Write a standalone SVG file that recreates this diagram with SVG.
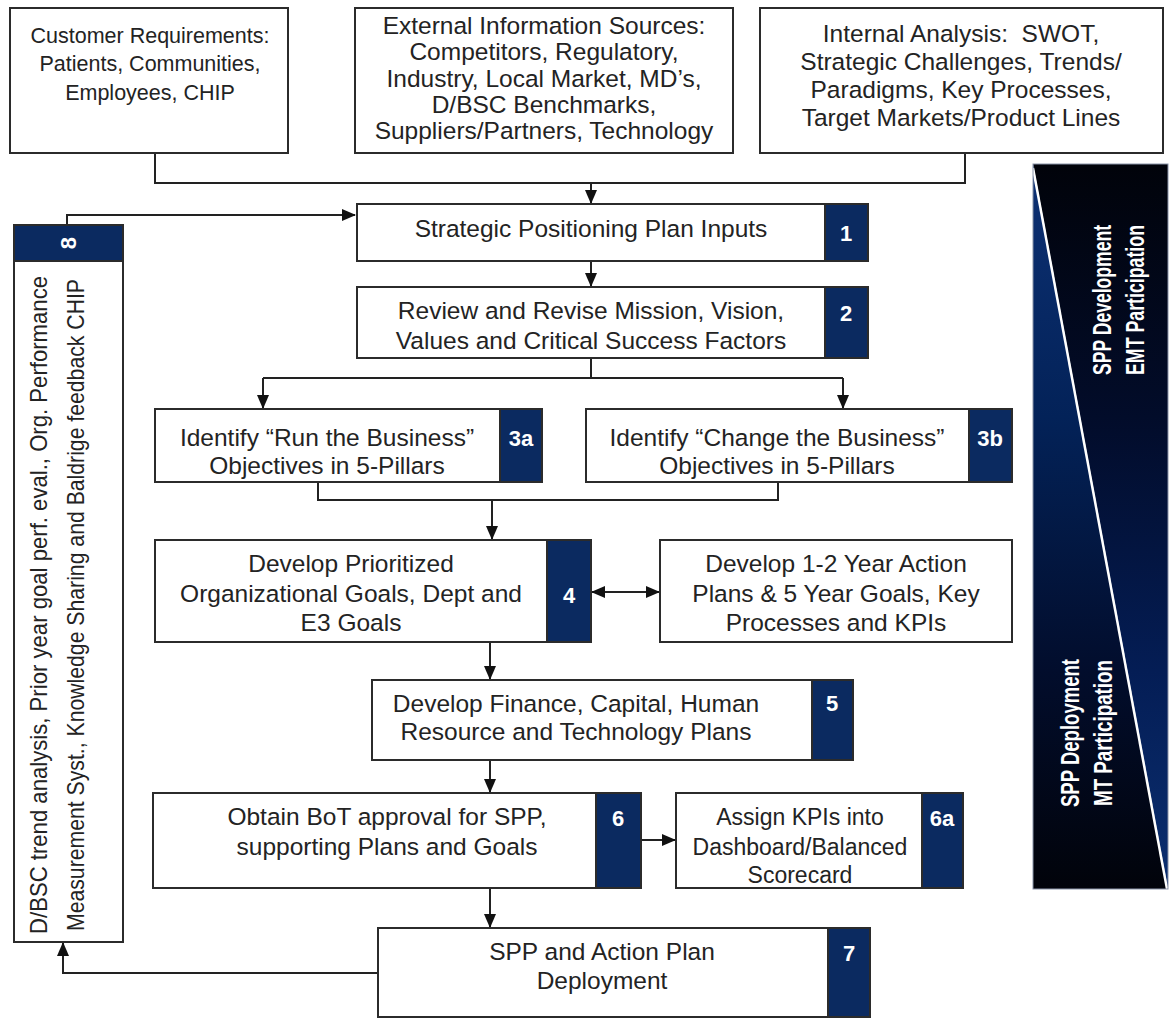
<svg xmlns="http://www.w3.org/2000/svg" width="1174" height="1031" viewBox="0 0 1174 1031">
  <style>
    .box { fill: #ffffff; stroke: #2b2b2b; stroke-width: 2; }
    .badge { fill: #0b2a60; stroke: #2b2b2b; stroke-width: 2; }
    .txt { font-family: "Liberation Sans", Arial, sans-serif; font-size: 24.5px; fill: #232323; text-anchor: middle; }
    .small { font-size: 21.5px; }
    .mid { font-size: 23px; }
    .num { font-family: "Liberation Sans", Arial, sans-serif; font-size: 22px; font-weight: bold; fill: #ffffff; text-anchor: middle; }
    .narrow { font-family: "Liberation Sans Narrow", "Liberation Sans", Arial, sans-serif; text-anchor: middle; }
    .side { font-size: 24px; fill: #232323; }
    .band { font-size: 25px; font-weight: bold; fill: #ffffff; }
    .wire { fill: none; stroke: #222222; stroke-width: 2; }
  </style>
  <defs>
    <marker id="arrow" viewBox="0 0 14 12" refX="13" refY="6" markerWidth="14" markerHeight="12" markerUnits="userSpaceOnUse" orient="auto-start-reverse">
      <path d="M0,0 L14,6 L0,12 Z" fill="#111111"/>
    </marker>
    <linearGradient id="upperShade" x1="0" y1="0" x2="0" y2="1">
      <stop offset="0" stop-color="#01030a"/>
      <stop offset="0.35" stop-color="#020c2a"/>
      <stop offset="0.7" stop-color="#041d55"/>
      <stop offset="1" stop-color="#0b2f70"/>
    </linearGradient>
    <linearGradient id="lowerShade" x1="0" y1="0" x2="0" y2="1">
      <stop offset="0" stop-color="#0d3174"/>
      <stop offset="0.35" stop-color="#032258"/>
      <stop offset="0.7" stop-color="#020d2c"/>
      <stop offset="1" stop-color="#01030a"/>
    </linearGradient>
  </defs>

  <!-- participation band on the right -->
  <g id="participation-band">
    <polygon points="1033,164 1168,164 1168,889" fill="url(#upperShade)"/>
    <polygon points="1033,164 1168,889 1033,889" fill="url(#lowerShade)"/>
    <line x1="1033" y1="168" x2="1167" y2="889" stroke="#ffffff" stroke-width="2.5"/>
    <rect x="1033" y="164" width="135" height="725" fill="none" stroke="#8a93a8" stroke-width="1"/>
    <g transform="translate(1111,300) rotate(-90)">
      <text class="narrow band" x="0" y="0" textLength="150" lengthAdjust="spacingAndGlyphs">SPP Development</text>
      <text class="narrow band" x="0" y="33" textLength="150" lengthAdjust="spacingAndGlyphs">EMT Participation</text>
    </g>
    <g transform="translate(1079,733) rotate(-90)">
      <text class="narrow band" x="0" y="0" textLength="148" lengthAdjust="spacingAndGlyphs">SPP Deployment</text>
      <text class="narrow band" x="0" y="33" textLength="146" lengthAdjust="spacingAndGlyphs">MT Participation</text>
    </g>
  </g>

  <!-- connectors -->
  <g id="connectors">
    <path class="wire" d="M155,153 V183 H965 V153"/>
    <path class="wire" d="M591,183 V203" marker-end="url(#arrow)"/>
    <path class="wire" d="M67,225 V215 H355" marker-end="url(#arrow)"/>
    <path class="wire" d="M591,261 V286" marker-end="url(#arrow)"/>
    <path class="wire" d="M591,358 V378"/>
    <path class="wire" d="M263,378 H843"/>
    <path class="wire" d="M263,378 V408" marker-end="url(#arrow)"/>
    <path class="wire" d="M843,378 V408" marker-end="url(#arrow)"/>
    <path class="wire" d="M318,482 V500 H778 V482"/>
    <path class="wire" d="M492,500 V539" marker-end="url(#arrow)"/>
    <path class="wire" d="M592,592 H659" marker-start="url(#arrow)" marker-end="url(#arrow)"/>
    <path class="wire" d="M490,642 V679" marker-end="url(#arrow)"/>
    <path class="wire" d="M490,760 V792" marker-end="url(#arrow)"/>
    <path class="wire" d="M642,840 H675" marker-end="url(#arrow)"/>
    <path class="wire" d="M490,888 V927" marker-end="url(#arrow)"/>
    <path class="wire" d="M378,973 H63 V943" marker-end="url(#arrow)"/>
  </g>

  <!-- input sources -->
  <g id="customer-requirements">
    <rect class="box" x="10" y="8" width="278" height="145"/>
    <text class="txt small" x="150" y="43">Customer Requirements:</text>
    <text class="txt small" x="150" y="71">Patients, Communities,</text>
    <text class="txt small" x="150" y="100">Employees, CHIP</text>
  </g>
  <g id="external-sources">
    <rect class="box" x="355" y="8" width="378" height="145"/>
    <text class="txt" x="544" y="34">External Information Sources:</text>
    <text class="txt" x="544" y="60">Competitors, Regulatory,</text>
    <text class="txt" x="544" y="87">Industry, Local Market, MD’s,</text>
    <text class="txt" x="544" y="113">D/BSC Benchmarks,</text>
    <text class="txt" x="544" y="139">Suppliers/Partners, Technology</text>
  </g>
  <g id="internal-analysis">
    <rect class="box" x="760" y="8" width="403" height="145"/>
    <text class="txt" x="961" y="42" xml:space="preserve">Internal Analysis:  SWOT,</text>
    <text class="txt" x="961" y="70">Strategic Challenges, Trends/</text>
    <text class="txt" x="961" y="98">Paradigms, Key Processes,</text>
    <text class="txt" x="961" y="126">Target Markets/Product Lines</text>
  </g>

  <!-- step 8: feedback -->
  <g id="step-8">
    <rect class="box" x="14" y="225" width="109" height="717"/>
    <rect class="badge" x="14" y="225" width="109" height="36"/>
    <text class="num" transform="translate(76,243) rotate(-90)" x="0" y="0">8</text>
    <g transform="translate(47,605) rotate(-90)">
      <text class="narrow side" x="0" y="0" textLength="658" lengthAdjust="spacingAndGlyphs">D/BSC trend analysis, Prior year goal perf. eval., Org. Performance</text>
      <text class="narrow side" x="0" y="37" textLength="652" lengthAdjust="spacingAndGlyphs">Measurement Syst., Knowledge Sharing and Baldrige feedback CHIP</text>
    </g>
  </g>

  <!-- planning steps -->
  <g id="step-1">
    <rect class="box" x="357" y="204" width="468" height="57"/>
    <rect class="badge" x="825" y="204" width="43" height="57"/>
    <text class="txt" x="591" y="237">Strategic Positioning Plan Inputs</text>
    <text class="num" x="846" y="241">1</text>
  </g>
  <g id="step-2">
    <rect class="box" x="357" y="287" width="468" height="71"/>
    <rect class="badge" x="825" y="287" width="43" height="71"/>
    <text class="txt" x="591" y="319">Review and Revise Mission, Vision,</text>
    <text class="txt" x="591" y="349">Values and Critical Success Factors</text>
    <text class="num" x="846" y="321">2</text>
  </g>
  <g id="step-3a">
    <rect class="box" x="155" y="409" width="345" height="73"/>
    <rect class="badge" x="500" y="409" width="42" height="73"/>
    <text class="txt" x="327" y="446">Identify “Run the Business”</text>
    <text class="txt" x="327" y="474">Objectives in 5-Pillars</text>
    <text class="num" x="521" y="446">3a</text>
  </g>
  <g id="step-3b">
    <rect class="box" x="586" y="409" width="383" height="73"/>
    <rect class="badge" x="969" y="409" width="43" height="73"/>
    <text class="txt" x="777" y="446">Identify “Change the Business”</text>
    <text class="txt" x="777" y="474">Objectives in 5-Pillars</text>
    <text class="num" x="990" y="446">3b</text>
  </g>
  <g id="step-4">
    <rect class="box" x="155" y="540" width="392" height="102"/>
    <rect class="badge" x="547" y="540" width="44" height="102"/>
    <text class="txt" x="351" y="572">Develop Prioritized</text>
    <text class="txt" x="351" y="602">Organizational Goals, Dept and</text>
    <text class="txt" x="351" y="631">E3 Goals</text>
    <text class="num" x="569" y="603">4</text>
  </g>
  <g id="action-plans">
    <rect class="box" x="660" y="540" width="352" height="102"/>
    <text class="txt" x="836" y="572">Develop 1-2 Year Action</text>
    <text class="txt" x="836" y="602">Plans &amp; 5 Year Goals, Key</text>
    <text class="txt" x="836" y="631">Processes and KPIs</text>
  </g>
  <g id="step-5">
    <rect class="box" x="372" y="680" width="440" height="80"/>
    <rect class="badge" x="812" y="680" width="41" height="80"/>
    <text class="txt" x="576" y="712">Develop Finance, Capital, Human</text>
    <text class="txt" x="576" y="740">Resource and Technology Plans</text>
    <text class="num" x="832" y="711">5</text>
  </g>
  <g id="step-6">
    <rect class="box" x="153" y="793" width="443" height="95"/>
    <rect class="badge" x="596" y="793" width="45" height="95"/>
    <text class="txt" x="387" y="825">Obtain BoT approval for SPP,</text>
    <text class="txt" x="387" y="855">supporting Plans and Goals</text>
    <text class="num" x="618" y="826">6</text>
  </g>
  <g id="step-6a">
    <rect class="box" x="676" y="793" width="246" height="95"/>
    <rect class="badge" x="922" y="793" width="41" height="95"/>
    <text class="txt mid" x="800" y="825">Assign KPIs into</text>
    <text class="txt mid" x="800" y="855">Dashboard/Balanced</text>
    <text class="txt mid" x="800" y="883">Scorecard</text>
    <text class="num" x="942" y="826">6a</text>
  </g>
  <g id="step-7">
    <rect class="box" x="378" y="928" width="450" height="89"/>
    <rect class="badge" x="828" y="928" width="42" height="89"/>
    <text class="txt" x="602" y="960">SPP and Action Plan</text>
    <text class="txt" x="602" y="989">Deployment</text>
    <text class="num" x="849" y="961">7</text>
  </g>
</svg>
